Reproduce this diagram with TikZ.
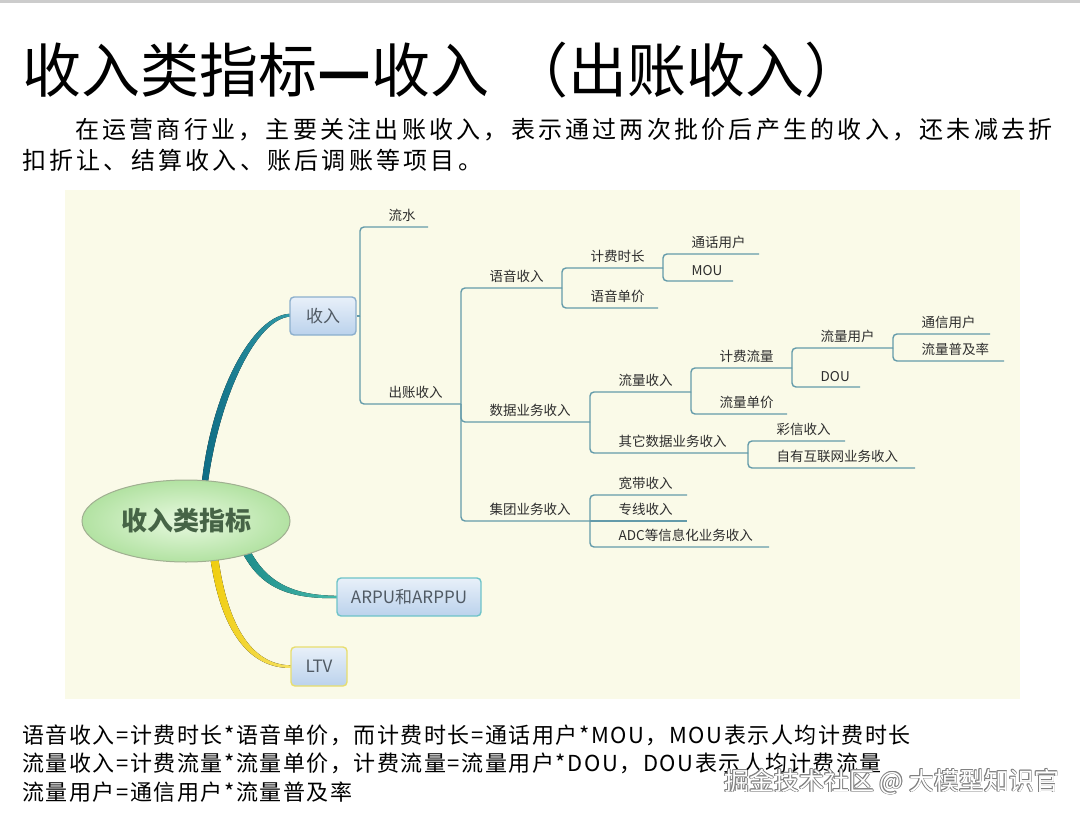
\documentclass[tikz,border=0pt]{standalone}
\usepackage{fontspec}
\setmainfont{Noto Sans CJK SC}
\newfontfamily\parafont[LetterSpace=13.5]{Noto Sans CJK SC}
\newfontfamily\formfont[LetterSpace=7]{Noto Sans CJK SC}
\usetikzlibrary{shapes.geometric,calc}
\definecolor{bgyellow}{RGB}{250,250,232}
\definecolor{treeline}{RGB}{100,155,170}
\definecolor{treetext}{RGB}{45,45,45}
\definecolor{boxtop}{RGB}{232,240,249}
\definecolor{boxbot}{RGB}{187,210,236}
\definecolor{shouruborder}{RGB}{140,175,205}
\definecolor{arpuborder}{RGB}{110,195,200}
\definecolor{ltvborder}{RGB}{232,222,110}
\definecolor{boxtext}{RGB}{80,90,100}
\definecolor{ellin}{RGB}{232,249,224}
\definecolor{ellout}{RGB}{178,226,162}
\definecolor{ellborder}{RGB}{160,175,145}
\definecolor{elltext}{RGB}{70,100,70}
\definecolor{tealdark}{RGB}{14,108,132}
\definecolor{teallight}{RGB}{50,155,168}
\definecolor{greendark}{RGB}{30,140,138}
\definecolor{greenlight}{RGB}{70,185,170}
\definecolor{yellowdark}{RGB}{240,205,15}
\definecolor{yellowlight}{RGB}{245,225,100}
\tikzset{
  tlabel/.style={anchor=south west, inner sep=1.5pt, text=treetext, font=\fontsize{13.5}{14}\selectfont},
  tline/.style={draw=treeline, line width=1.4pt, rounded corners=4pt},
  topicbox/.style={rounded corners=4pt, line width=1.4pt, top color=boxtop, bottom color=boxbot, text=boxtext, font=\fontsize{17}{18}\selectfont, inner sep=0pt},
  plaintext/.style={anchor=base west, inner sep=0pt, text=black},
}
\begin{document}
\begin{tikzpicture}[x=1pt,y=-1pt]
\useasboundingbox (0,0) rectangle (1080,817);
\fill[white] (0,0) rectangle (1080,817);
\fill[black!20] (0,0) rectangle (1080,2.5);

% title and paragraph
\node[plaintext, font=\fontsize{59}{62}\selectfont] (title) at (22,92) {收入类指标{\bfseries —}收入\hspace{20pt}（出账收入）};
\node[plaintext, font=\parafont\fontsize{24}{28}\selectfont] (p1) at (75,138) {在运营商行业，主要关注出账收入，表示通过两次批价后产生的收入，还未减去折};
\node[plaintext, font=\parafont\fontsize{24}{28}\selectfont] (p2) at (22,169) {扣折让、结算收入、账后调账等项目。};

% mind map background
\fill[bgyellow] (65,190) rectangle (1020,699);

% root and main branches
\node[ellipse, minimum width=208pt, minimum height=82pt, inner sep=0pt] (root) at (186,521) {};
\fill[left color=tealdark, right color=teallight]
  ($(root.center)+(15,-31)$) .. controls (210,393) and (253,313.5) .. ($(323,316)+(-32,-2.2)$)
  -- ($(323,316)+(-32,0.6)$) .. controls (257,317) and (218,397) .. ($(root.center)+(21,-31)$) -- cycle;
\fill[left color=greendark, right color=greenlight]
  ($(root.center)+(61,23)$) .. controls (264,582) and (292,595.6) .. ($(409,597)+(-71,-1.2)$)
  -- ($(409,597)+(-71,1.2)$) .. controls (288,599) and (259,588) .. ($(root.center)+(54,27)$) -- cycle;
\fill[left color=yellowdark, right color=yellowlight]
  ($(root.center)+(32,35)$) .. controls (229,638) and (259,665.8) .. ($(319,666.5)+(-27,-1.2)$)
  -- ($(319,666.5)+(-27,1.4)$) .. controls (256,669) and (222,642) .. ($(root.center)+(24,35)$) -- cycle;

\node[ellipse, minimum width=208pt, minimum height=82pt, inner sep=0pt, draw=ellborder, line width=1pt, inner color=ellin, outer color=ellout, text=elltext, font=\bfseries\fontsize{26}{28}\selectfont] (rootlabel) at (root.center) {收入类指标};

\node[topicbox, draw=shouruborder, minimum width=66pt, minimum height=38pt] (shouru) at (323,316) {收入};
\node[topicbox, draw=arpuborder, minimum width=144pt, minimum height=38pt] (arpu) at (409,597) {ARPU和ARPPU};
\node[topicbox, draw=ltvborder, minimum width=56pt, minimum height=39pt] (ltv) at (319,666.5) {LTV};

% tree junctions / line ends
\coordinate (j0) at (360,316);
\coordinate (e-ls) at (428,227);
\coordinate (e-cz) at (461,404);
\coordinate (e-yy) at (562,288);
\coordinate (e-sj) at (590,422);
\coordinate (e-jt) at (590,521);
\coordinate (e-jfsc) at (663,268);
\coordinate (e-yydj) at (658,308);
\coordinate (e-thyh) at (759,254);
\coordinate (e-mou) at (733,281);
\coordinate (e-llsr) at (691,392);
\coordinate (e-qt) at (748,453);
\coordinate (e-jfll) at (792,368);
\coordinate (e-lldj) at (787,414);
\coordinate (e-llyh) at (893,348);
\coordinate (e-dou) at (860,387);
\coordinate (e-txyh) at (990,334);
\coordinate (e-pjl) at (1004,361);
\coordinate (e-cx) at (845,441);
\coordinate (e-zy) at (915,468);
\coordinate (e-kd) at (687,495);
\coordinate (e-zx) at (687,521);
\coordinate (e-adc) at (769,547);

\draw[tline] (shouru.east) -- (j0);
\draw[tline] (j0) |- (e-ls);
\draw[tline] (j0) |- (e-cz);
\draw[tline] (e-cz) |- (e-yy);
\draw[tline] (e-cz) |- (e-sj);
\draw[tline] (e-cz) |- (e-jt);
\draw[tline] (e-yy) |- (e-jfsc);
\draw[tline] (e-yy) |- (e-yydj);
\draw[tline] (e-jfsc) |- (e-thyh);
\draw[tline] (e-jfsc) |- (e-mou);
\draw[tline] (e-sj) |- (e-llsr);
\draw[tline] (e-sj) |- (e-qt);
\draw[tline] (e-llsr) |- (e-jfll);
\draw[tline] (e-llsr) |- (e-lldj);
\draw[tline] (e-jfll) |- (e-llyh);
\draw[tline] (e-jfll) |- (e-dou);
\draw[tline] (e-llyh) |- (e-txyh);
\draw[tline] (e-llyh) |- (e-pjl);
\draw[tline] (e-qt) |- (e-cx);
\draw[tline] (e-qt) |- (e-zy);
\draw[tline] (e-jt) |- (e-kd);
\draw[tline] (e-jt) -- (e-zx);
\draw[tline] (e-jt) |- (e-adc);

% labels
\node[tlabel] (l-ls) at (387,223.5) {流水};
\node[tlabel] (l-cz) at (387,400.5) {出账收入};
\node[tlabel] (l-yy) at (488,284.5) {语音收入};
\node[tlabel] (l-sj) at (488,418.5) {数据业务收入};
\node[tlabel] (l-jt) at (488,517.5) {集团业务收入};
\node[tlabel] (l-jfsc) at (589,264.5) {计费时长};
\node[tlabel] (l-yydj) at (589,304.5) {语音单价};
\node[tlabel] (l-thyh) at (690,250.5) {通话用户};
\node[tlabel] (l-mou) at (690,277.5) {MOU};
\node[tlabel] (l-llsr) at (617,388.5) {流量收入};
\node[tlabel] (l-qt) at (617,449.5) {其它数据业务收入};
\node[tlabel] (l-jfll) at (718,364.5) {计费流量};
\node[tlabel] (l-lldj) at (718,410.5) {流量单价};
\node[tlabel] (l-llyh) at (819,344.5) {流量用户};
\node[tlabel] (l-dou) at (819,383.5) {DOU};
\node[tlabel] (l-txyh) at (920,330.5) {通信用户};
\node[tlabel] (l-pjl) at (920,357.5) {流量普及率};
\node[tlabel] (l-cx) at (775,437.5) {彩信收入};
\node[tlabel] (l-zy) at (775,464.5) {自有互联网业务收入};
\node[tlabel] (l-kd) at (617,491.5) {宽带收入};
\node[tlabel] (l-zx) at (617,517.5) {专线收入};
\node[tlabel] (l-adc) at (617,543.5) {ADC等信息化业务收入};

% formulas
\node[plaintext, font=\formfont\fontsize{22}{26}\selectfont] (f1) at (22,743) {语音收入=计费时长*语音单价，而计费时长=通话用户*MOU，MOU表示人均计费时长};
\node[plaintext, font=\formfont\fontsize{22}{26}\selectfont] (f2) at (22,771) {流量收入=计费流量*流量单价，计费流量=流量用户*DOU，DOU表示人均计费流量};
\node[plaintext, font=\formfont\fontsize{22}{26}\selectfont] (f3) at (22,800) {流量用户=通信用户*流量普及率};

% watermark
\foreach \dx/\dy [count=\i] in {-0.9/0,0.9/0,0/-0.9,0/0.9,0.7/0.7,-0.7/-0.7,0.7/-0.7,-0.7/0.7}{
  \node[plaintext, text=black!50, font=\fontsize{25}{28}\selectfont] (wm\i) at (724+\dx,790+\dy) {掘金技术社区 @ 大模型知识官};
}
\node[plaintext, text=white, font=\fontsize{25}{28}\selectfont] (wm) at (724,790) {掘金技术社区 @ 大模型知识官};
\end{tikzpicture}
\end{document}
